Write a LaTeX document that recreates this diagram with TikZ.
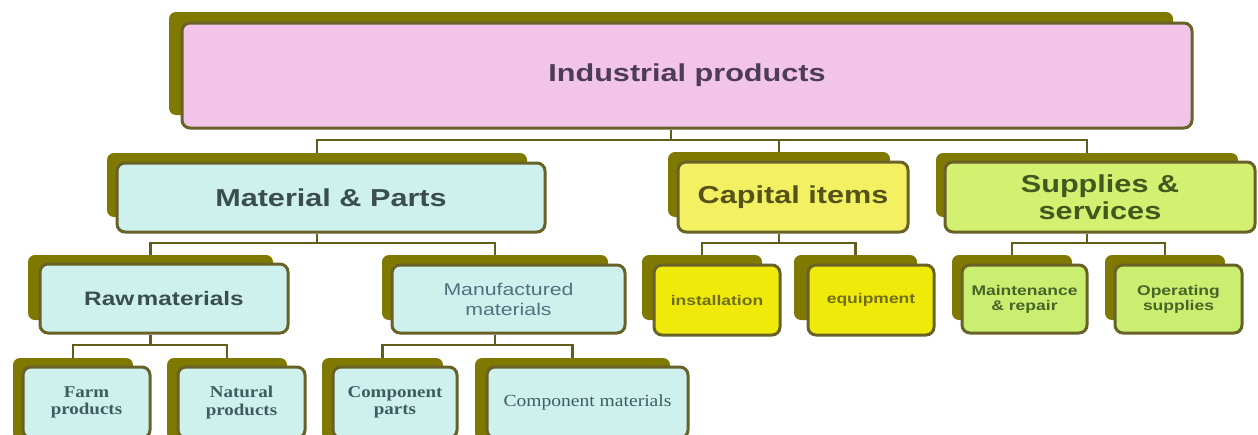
\documentclass[tikz,border=0pt]{standalone}
\usepackage{fontspec}
\newfontfamily\hsans{Liberation Sans}[FakeStretch=1.25]
\newfontfamily\hserif{Liberation Serif}[FakeStretch=1.15]
% palette
\definecolor{olv}{RGB}{128,121,0}
\definecolor{edge}{RGB}{104,98,40}
\definecolor{wire}{RGB}{100,94,28}
\definecolor{pinkf}{RGB}{242,196,234}
\definecolor{cyanf}{RGB}{206,241,238}
\definecolor{capf}{RGB}{243,240,98}
\definecolor{supf}{RGB}{212,240,112}
\definecolor{yelf}{RGB}{240,234,10}
\definecolor{grnf}{RGB}{202,238,112}
\definecolor{toptx}{RGB}{76,60,86}
\definecolor{slate}{RGB}{58,78,80}
\definecolor{mantx}{RGB}{84,112,124}
\definecolor{captx}{RGB}{84,82,24}
\definecolor{suptx}{RGB}{66,88,30}
\definecolor{yeltx}{RGB}{112,110,20}
\definecolor{grntx}{RGB}{72,100,40}
\definecolor{lowtx}{RGB}{64,92,94}
% box from corner (x1,y1) to (x2,y2): name, x1, y1, x2, y2, style, text
\newcommand\cardbox[7]{%
  \node[#6, minimum width={#4-#2}, minimum height={#5-#3}] (#1) at ({(#2+#4)/2},{(#3+#5)/2}) {#7};}
\begin{document}
\begin{tikzpicture}[x=1pt,y=-1pt,
  back/.style={fill=olv, rounded corners=7pt, inner sep=0pt},
  card/.style={draw=edge, line width=3pt, rounded corners=8pt, inner sep=0pt, align=center},
  link/.style={draw=wire, line width=2.8pt},
  big/.style={font=\hsans\bfseries\fontsize{24.5}{27}\selectfont},
  mid/.style={font=\hsans\bfseries\fontsize{19.5}{22}\selectfont},
  midlight/.style={font=\hsans\fontsize{17}{20}\selectfont},
  small/.style={font=\hsans\bfseries\fontsize{14}{15}\selectfont},
  low/.style={font=\hserif\bfseries\fontsize{16.5}{17.5}\selectfont},
  lowlight/.style={font=\hserif\fontsize{17}{18}\selectfont}]
\useasboundingbox (0,0) rectangle (1258,434);
\clip (0,0) rectangle (1258,434);
\fill[white] (0,0) rectangle (1258,434);

% level 1
\cardbox{topS}{169}{12}{1173}{115}{back}{}
\cardbox{top}{182}{23}{1192}{128}{card, fill=pinkf, big, text=toptx}{Industrial products}

% level 2
\cardbox{matS}{107}{153}{527}{217}{back}{}
\cardbox{mat}{117}{163}{545}{232}{card, fill=cyanf, big, text=slate}{Material \& Parts}
\cardbox{capS}{668}{152}{890}{217}{back}{}
\cardbox{cap}{678}{162}{908}{232}{card, fill=capf, big, text=captx}{Capital items}
\cardbox{supS}{936}{153}{1238}{217}{back}{}
\cardbox{sup}{945}{162}{1255}{232}{card, fill=supf, big, text=suptx}{Supplies \&\\services}

% level 3
\cardbox{rawS}{28}{255}{273}{320}{back}{}
\cardbox{raw}{40}{264}{288}{333}{card, fill=cyanf, mid, text=slate}{Raw\hspace{0.12em}materials}
\cardbox{manS}{382}{255}{608}{320}{back}{}
\cardbox{man}{392}{265}{625}{333}{card, fill=cyanf, midlight, text=mantx}{Manufactured\\materials}
\cardbox{insS}{642}{255}{762}{320}{back}{}
\cardbox{ins}{654}{265}{780}{335}{card, fill=yelf, small, text=yeltx}{installation}
\cardbox{equS}{794}{255}{917}{320}{back}{}
\cardbox{equ}{808}{265}{934}{335}{card, fill=yelf, small, text=yeltx}{equipment}
\cardbox{maiS}{952}{255}{1072}{320}{back}{}
\cardbox{mai}{962}{265}{1087}{333}{card, fill=grnf, small, text=grntx}{Maintenance\\\& repair}
\cardbox{opeS}{1105}{255}{1225}{320}{back}{}
\cardbox{ope}{1115}{265}{1242}{333}{card, fill=grnf, small, text=grntx}{Operating\\supplies}

% level 4
\cardbox{farS}{13}{358}{133}{440}{back}{}
\cardbox{far}{23}{367}{150}{438}{card, fill=cyanf, low, text=lowtx}{Farm\\products}
\cardbox{natS}{167}{358}{287}{440}{back}{}
\cardbox{nat}{178}{367}{305}{438}{card, fill=cyanf, low, text=lowtx}{Natural\\products}
\cardbox{cppS}{322}{358}{443}{440}{back}{}
\cardbox{cpp}{333}{367}{457}{438}{card, fill=cyanf, low, text=lowtx}{Component\\parts}
\cardbox{cpmS}{475}{358}{670}{440}{back}{}
\cardbox{cpm}{487}{367}{688}{438}{card, fill=cyanf, lowlight, text=lowtx}{Component materials}

% bar heights
\coordinate (b1) at (0,140);
\coordinate (b2) at (0,243);
\coordinate (b3) at (0,345);

% connectors
\draw[link] (topS.center |- top.south) -- (topS.center |- b1);
\draw[link] (matS.north) -- (matS.north |- b1) -- (supS.north |- b1) -- (supS.north);
\draw[link] (capS.north) -- (capS.north |- b1);

\draw[link] (matS.center |- mat.south) -- (matS.center |- b2);
\draw[link] (rawS.north) -- (rawS.north |- b2) -- (manS.north |- b2) -- (manS.north);
\draw[link] (capS.center |- cap.south) -- (capS.center |- b2);
\draw[link] (insS.north) -- (insS.north |- b2) -- (equS.north |- b2) -- (equS.north);
\draw[link] (supS.center |- sup.south) -- (supS.center |- b2);
\draw[link] (maiS.north) -- (maiS.north |- b2) -- (opeS.north |- b2) -- (opeS.north);

\draw[link] (rawS.center |- raw.south) -- (rawS.center |- b3);
\draw[link] (farS.north) -- (farS.north |- b3) -- (natS.north |- b3) -- (natS.north);
\draw[link] (manS.center |- man.south) -- (manS.center |- b3);
\draw[link] (cppS.north) -- (cppS.north |- b3) -- (cpmS.north |- b3) -- (cpmS.north);
\end{tikzpicture}
\end{document}
